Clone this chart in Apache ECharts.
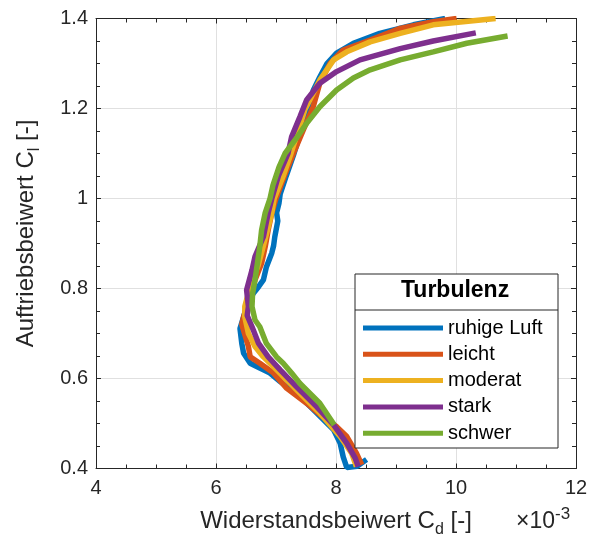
<!DOCTYPE html>
<html>
<head>
<meta charset="utf-8">
<script src="https://cdn.jsdelivr.net/npm/echarts@6/dist/echarts.min.js"></script>
<style>
html, body { margin: 0; padding: 0; background: #fff; }
#chart { width: 589px; height: 539px; }
</style>
</head>
<body>
<div id="chart"></div>
<script>
// Cd values in units of 1e-3, Cl values as is: [cd, cl]
var ruhigeLuft = [[9.82,1.40],[9.29,1.386],[8.73,1.367],[8.29,1.345],[8.01,1.323],[7.85,1.30],[7.73,1.27],[7.62,1.24],[7.55,1.20],[7.42,1.15],[7.30,1.10],[7.17,1.05],[7.07,1.01],[7.05,0.99],[7.01,0.968],[7.03,0.95],[6.98,0.915],[6.96,0.895],[6.93,0.879],[6.84,0.848],[6.79,0.819],[6.71,0.804],[6.62,0.789],[6.51,0.76],[6.46,0.737],[6.40,0.711],[6.43,0.678],[6.46,0.656],[6.57,0.634],[6.73,0.623],[6.90,0.612],[7.07,0.593],[7.40,0.56],[7.68,0.523],[7.96,0.486],[8.07,0.456],[8.12,0.426],[8.18,0.402],[8.35,0.405],[8.51,0.42]];
var leicht = [[10.01,1.40],[9.62,1.393],[9.07,1.378],[8.57,1.352],[8.12,1.33],[7.90,1.30],[7.73,1.256],[7.62,1.204],[7.48,1.16],[7.29,1.10],[7.14,1.05],[7.00,1.00],[6.93,0.968],[6.87,0.93],[6.82,0.893],[6.76,0.856],[6.65,0.819],[6.57,0.782],[6.46,0.737],[6.43,0.72],[6.46,0.707],[6.54,0.671],[6.57,0.648],[6.73,0.634],[6.96,0.612],[7.18,0.578],[7.51,0.545],[7.84,0.508],[8.01,0.493],[8.18,0.471],[8.34,0.434],[8.43,0.408]];
var moderat = [[10.66,1.40],[9.62,1.386],[9.07,1.367],[8.57,1.348],[8.18,1.326],[7.96,1.308],[7.73,1.263],[7.59,1.226],[7.48,1.197],[7.25,1.10],[7.12,1.05],[6.97,1.00],[6.93,0.968],[6.80,0.90],[6.70,0.85],[6.60,0.819],[6.48,0.76],[6.48,0.737],[6.54,0.70],[6.65,0.671],[6.79,0.648],[6.96,0.626],[7.40,0.567],[7.73,0.523],[8.07,0.471],[8.26,0.434],[8.34,0.404]];
var stark = [[10.33,1.368],[9.62,1.35],[9.07,1.333],[8.40,1.308],[8.01,1.282],[7.73,1.256],[7.51,1.219],[7.40,1.182],[7.26,1.137],[7.20,1.10],[7.04,1.05],[6.93,1.00],[6.87,0.968],[6.79,0.915],[6.65,0.871],[6.60,0.841],[6.51,0.797],[6.54,0.76],[6.52,0.74],[6.60,0.715],[6.71,0.678],[6.87,0.648],[7.07,0.619],[7.34,0.582],[7.68,0.537],[7.96,0.497],[8.18,0.456],[8.32,0.423],[8.37,0.404]];
var schwer = [[10.86,1.361],[10.18,1.345],[9.62,1.326],[9.07,1.308],[8.57,1.286],[8.29,1.268],[8.01,1.241],[7.73,1.204],[7.51,1.167],[7.34,1.134],[7.15,1.10],[7.05,1.07],[6.95,1.03],[6.90,1.00],[6.82,0.968],[6.76,0.93],[6.73,0.893],[6.69,0.856],[6.65,0.819],[6.61,0.789],[6.60,0.76],[6.65,0.73],[6.73,0.715],[6.84,0.678],[7.01,0.648],[7.12,0.634],[7.26,0.612],[7.40,0.589],[7.73,0.545],[7.90,0.511],[7.97,0.497]];

var seriesNames = ['ruhige Luft', 'leicht', 'moderat', 'stark', 'schwer'];
var seriesData = [ruhigeLuft, leicht, moderat, stark, schwer];
var colors = ['#0072BD', '#D95319', '#EDB120', '#7E2F8E', '#77AC30'];

var font = 'Liberation Sans, Arial, Helvetica, sans-serif';
var ink = '#262626';

var chart = echarts.init(document.getElementById('chart'));

var nameRich = {
    a: { fontSize: 24, fontFamily: font, color: ink },
    sub: { fontSize: 16, fontFamily: font, color: ink, lineHeight: 15, padding: [17, 0, 0, 0] }
};

function boxAxis(pos, min, max, interval) {
    return {
        type: 'value', position: pos, min: min, max: max, interval: interval,
        axisLine: { show: true, onZero: false, lineStyle: { color: ink, width: 1 } },
        axisTick: { show: true, inside: true, length: 5, lineStyle: { color: ink } },
        minorTick: { show: true, splitNumber: 4, length: 4, lineStyle: { color: ink } },
        axisLabel: { show: false },
        splitLine: { show: false }
    };
}

var option = {
    color: colors,
    animation: false,
    grid: { left: 96, right: 13, top: 18.5, bottom: 70.5, containLabel: false, outerBoundsMode: 'none' },
    xAxis: [{
        type: 'value', min: 4, max: 12, interval: 2,
        name: '{a|Widerstandsbeiwert C}{sub|d}{a| [-]}',
        nameLocation: 'middle', nameGap: 41,
        nameTextStyle: { rich: nameRich },
        axisLine: { show: true, onZero: false, lineStyle: { color: ink, width: 1 } },
        axisTick: { show: true, inside: true, length: 5, lineStyle: { color: ink } },
        minorTick: { show: true, splitNumber: 4, length: 4, lineStyle: { color: ink } },
        axisLabel: { fontSize: 20, fontFamily: font, color: ink, margin: 10 },
        splitLine: { show: true, lineStyle: { color: '#e0e0e0', width: 1 } }
    }, boxAxis('top', 4, 12, 2)],
    yAxis: [{
        type: 'value', min: 0.4, max: 1.4, interval: 0.2,
        name: '{a|Auftriebsbeiwert C}{sub|l}{a| [-]}',
        nameLocation: 'middle', nameGap: 58, nameRotate: 90,
        nameTextStyle: { rich: nameRich, padding: [0, 0, 0, 20] },
        axisLine: { show: true, onZero: false, lineStyle: { color: ink, width: 1 } },
        axisTick: { show: true, inside: true, length: 5, lineStyle: { color: ink } },
        minorTick: { show: true, splitNumber: 4, length: 4, lineStyle: { color: ink } },
        axisLabel: { fontSize: 20, fontFamily: font, color: ink, margin: 8,
            formatter: function (v) { return String(Math.round(v * 10) / 10); } },
        splitLine: { show: true, lineStyle: { color: '#e0e0e0', width: 1 } }
    }, boxAxis('right', 0.4, 1.4, 0.2)],
    legend: {
        orient: 'vertical', left: 358, top: 313, z: 20,
        icon: 'rect', itemWidth: 80, itemHeight: 5, itemGap: 6.3,
        data: seriesNames,
        textStyle: { fontSize: 20, fontFamily: font, color: '#000', lineHeight: 20 }
    },
    graphic: [
        { type: 'rect', z: 10, shape: { x: 355, y: 274, width: 203, height: 174 },
          style: { fill: '#fff', stroke: ink, lineWidth: 1 } },
        { type: 'line', z: 11, shape: { x1: 355, y1: 310, x2: 558, y2: 310 },
          style: { stroke: ink, lineWidth: 1 } },
        { type: 'text', z: 11, left: 401, top: 279,
          style: { text: 'Turbulenz', fontSize: 23, fontWeight: 'bold', fontFamily: font, fill: '#000' } },
        { type: 'text', z: 11, left: 516, top: 506,
          style: { text: '×10{sup|-3}', fontSize: 23, fontFamily: font, fill: ink,
            rich: { sup: { fontSize: 17, fontFamily: font, fill: ink, lineHeight: 15, padding: [0, 0, 15, 0] } } } }
    ],
    series: seriesData.map(function (d, i) {
        return {
            name: seriesNames[i], type: 'line', data: d,
            showSymbol: false, symbol: 'none',
            lineStyle: { width: 5.5, color: colors[i] },
            itemStyle: { color: colors[i] }
        };
    })
};
chart.setOption(option);
</script>
</body>
</html>
